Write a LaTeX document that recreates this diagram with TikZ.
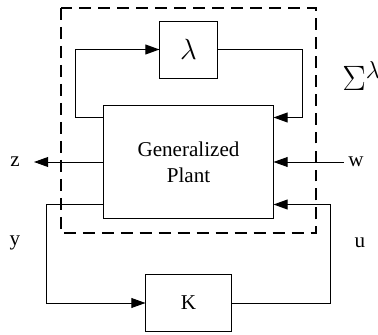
\documentclass[tikz,border=0pt]{standalone}
\usepackage[no-math]{fontspec}
\setmainfont{Liberation Serif}
\usepackage{tikz}
\usetikzlibrary{arrows.meta,calc,positioning}

\tikzset{
  blk/.style={draw, line width=0.7pt, inner sep=0pt},
  sig/.style={line width=0.7pt, -{Triangle[length=10pt,width=7pt]}},
  lbl/.style={inner sep=0pt},
  big/.style={font=\fontsize{20.74}{25}\selectfont}
}

\begin{document}
\begin{tikzpicture}[x=0.025cm, y=-0.025cm, font=\fontsize{15}{18.5}\selectfont]

    \useasboundingbox (0,0) rectangle (378,335);

    % Blocks
    \node[blk, minimum width=4.225cm, minimum height=2.8cm, align=center] (plant) at (188.5,162) {Generalized\\Plant};
    \node[blk, big, minimum width=1.425cm, minimum height=1.425cm] (lam) at (188.5,49.5) {$\lambda$};
    \node[blk, minimum width=2.125cm, minimum height=1.4cm] (K) at (188.5,303) {K};

    % Lambda loop
    \draw[sig] ($(plant.north west)+(0,12)$) -- ++(-28,0) |- (lam.west);
    \draw[sig] (lam.east) -| ($(plant.north east)+(29,12)$) -- ($(plant.north east)+(0,12)$);

    % Outside signals
    \coordinate (zend) at (34,162);
    \coordinate (wbeg) at (344,162);
    \draw[sig] (plant.west) -- (zend);
    \draw[sig] (wbeg) -- (plant.east);
    \node[lbl] (zlab) at (15,162) {z};
    \node[lbl] (wlab) at (356,162) {w};

    % Controller loop
    \draw[sig] ($(plant.south west)+(0,-14)$) -| ($(K.west)+(-99,0)$) -- (K.west);
    \draw[sig] (K.east) -| ($(plant.south east)+(57,-14)$) -- ($(plant.south east)+(0,-14)$);
    \node[lbl] (ylab) at (15,243) {y};
    \node[lbl] (ulab) at (360,243) {u};

    % Sigma box
    \draw[line width=2pt, dash pattern=on 8.5pt off 5pt] (61,8) rectangle (316,233);
    \node[lbl, anchor=west, font=\fontsize{17.28}{21}\selectfont] (sig) at (342,76) {\scalebox{1.45}{$\Sigma^\lambda$}};
\end{tikzpicture}
\end{document}
